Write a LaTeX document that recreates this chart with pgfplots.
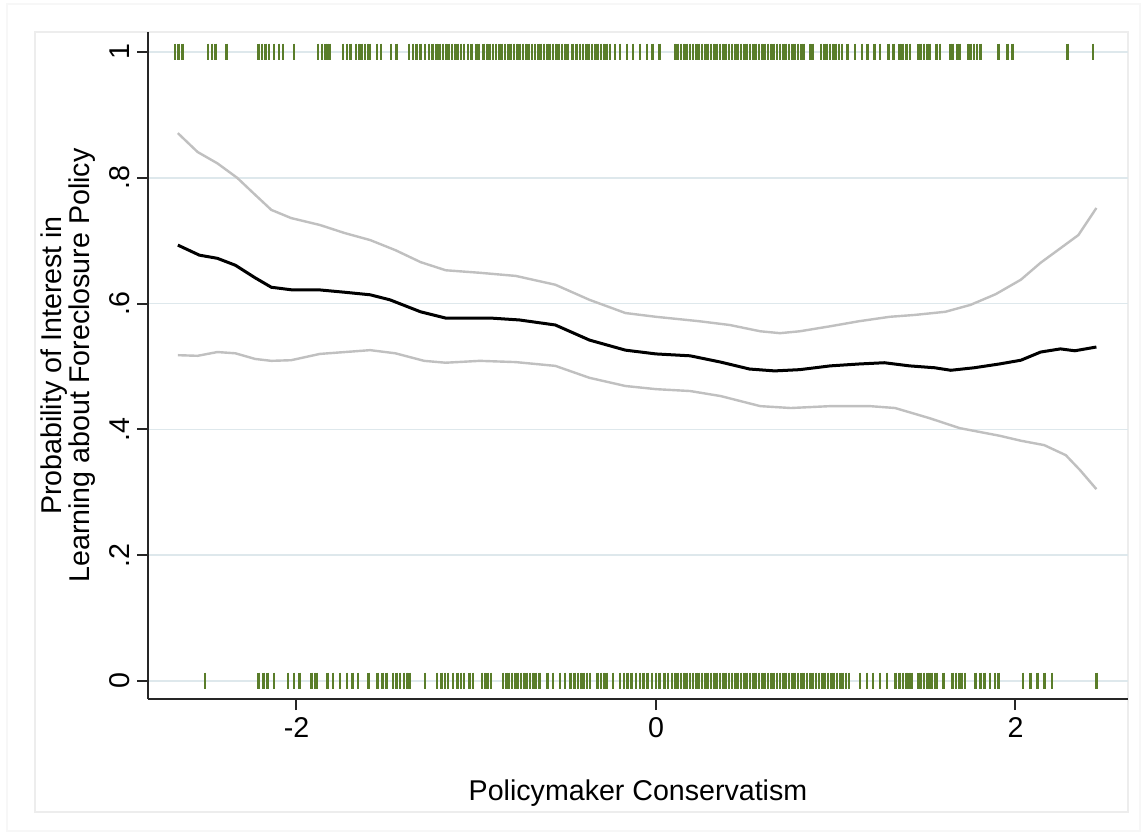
\documentclass[border=0pt]{standalone}
\usepackage{fontspec}
\setmainfont{Liberation Sans}
\usepackage{pgfplots}
\pgfplotsset{compat=1.18}
\definecolor{rug}{RGB}{90,125,42}
\definecolor{gridc}{RGB}{222,232,236}
\definecolor{ci}{RGB}{192,192,192}
\begin{document}
\begin{tikzpicture}
\useasboundingbox (0,0) rectangle (572pt,417.5pt);
\fill[white] (0,0) rectangle (572pt,417.5pt);
\draw[gray!6, line width=0.6pt] (3.5pt,2pt) rectangle (570pt,415.5pt);
\draw[gray!14, line width=0.8pt] (17.5pt,11.5pt) rectangle (564pt,401.5pt);
\begin{axis}[
  at={(74pt,68pt)}, anchor=south west,
  scale only axis, width=490pt, height=333.5pt,
  xmin=-2.826, xmax=2.626, ymin=-0.0286, ymax=1.0318,
  axis lines=left, axis line style={-, line width=1pt, black!85},
  tick style={line width=1pt, black!85},
  tick align=outside, major tick length=5.5pt,
  xtick={-2,0,2}, xticklabels={-2,0,2},
  ytick={0,0.2,0.4,0.6,0.8,1}, yticklabels={0,.2,.4,.6,.8,1},
  yticklabel style={rotate=90, anchor=south},
  ymajorgrids, grid style={gridc, line width=0.8pt},
  font=\fontsize{14.3}{14}\selectfont,
  xlabel={Policymaker Conservatism},
  ylabel={Probability of Interest in\\Learning about Foreclosure Policy},
  xlabel style={at={(axis description cs:0.5,-0.141)}, anchor=center},
  ylabel style={at={(axis description cs:-0.0816,0.5)}, anchor=center, align=center},
  clip=false,
  rugstyle/.style={only marks, mark=|, mark size=4.2pt, rug, mark options={line width=1.45pt}},
]
% rug at y = 1
\addplot[rugstyle] coordinates {
(-2.676,1)(-2.654,1)(-2.632,1)
(-2.492,1)(-2.470,1)(-2.448,1)(-2.387,1)
(-2.209,1)(-2.192,1)(-2.170,1)(-2.153,1)(-2.125,1)(-2.097,1)(-2.075,1)(-2.014,1)
(-1.880,1)(-1.858,1)(-1.841,1)(-1.825,1)(-1.814,1)
(-1.741,1)(-1.719,1)(-1.697,1)
(-1.669,1)(-1.652,1)(-1.636,1)(-1.619,1)(-1.602,1)(-1.591,1)
(-1.552,1)(-1.530,1)(-1.474,1)(-1.446,1)
(-1.374,1)(-1.352,1)(-1.330,1)(-1.308,1)(-1.285,1)(-1.263,1)(-1.241,1)(-1.219,1)(-1.202,1)
(-1.185,1)(-1.168,1)(-1.152,1)(-1.135,1)(-1.118,1)(-1.102,1)(-1.085,1)(-1.068,1)
(-1.046,1)(-1.024,1)(-1.001,1)(-0.985,1)(-0.962,1)(-0.940,1)(-0.924,1)
(-0.907,1)(-0.890,1)(-0.873,1)(-0.857,1)(-0.840,1)(-0.823,1)(-0.807,1)(-0.790,1)
(-0.773,1)(-0.757,1)(-0.740,1)(-0.723,1)(-0.707,1)(-0.690,1)(-0.673,1)(-0.656,1)
(-0.640,1)(-0.623,1)(-0.606,1)(-0.590,1)(-0.573,1)(-0.556,1)(-0.540,1)(-0.523,1)(-0.506,1)(-0.490,1)
(-0.462,1)
(-0.440,1)(-0.423,1)(-0.406,1)(-0.389,1)(-0.373,1)(-0.356,1)(-0.339,1)(-0.323,1)(-0.306,1)(-0.289,1)(-0.273,1)(-0.256,1)
(-0.228,1)(-0.200,1)(-0.161,1)(-0.128,1)(-0.089,1)(-0.050,1)(-0.017,1)(0.022,1)
(0.106,1)(0.122,1)(0.139,1)(0.156,1)(0.172,1)(0.189,1)(0.206,1)(0.223,1)(0.239,1)(0.256,1)
(0.273,1)(0.289,1)(0.306,1)(0.323,1)(0.339,1)(0.356,1)(0.373,1)(0.389,1)(0.406,1)(0.423,1)
(0.440,1)(0.456,1)(0.473,1)(0.490,1)(0.506,1)(0.523,1)(0.540,1)(0.556,1)(0.573,1)(0.590,1)
(0.606,1)(0.623,1)(0.640,1)(0.656,1)(0.673,1)(0.690,1)(0.707,1)(0.723,1)(0.740,1)(0.757,1)
(0.773,1)(0.790,1)(0.807,1)(0.823,1)
(0.857,1)(0.873,1)
(0.918,1)(0.935,1)(0.951,1)(0.968,1)(0.985,1)(1.001,1)(1.018,1)(1.035,1)
(1.063,1)(1.107,1)(1.146,1)(1.179,1)(1.218,1)(1.246,1)(1.291,1)(1.319,1)(1.357,1)(1.369,1)(1.396,1)(1.413,1)
(1.458,1)(1.474,1)(1.491,1)(1.508,1)(1.524,1)
(1.563,1)(1.580,1)
(1.636,1)(1.652,1)(1.675,1)(1.691,1)
(1.736,1)(1.752,1)(1.769,1)(1.786,1)(1.803,1)
(1.903,1)(1.958,1)(1.981,1)
(2.287,1)(2.431,1)
};
% rug at y = 0
\addplot[rugstyle] coordinates {
(-2.509,0)
(-2.209,0)(-2.181,0)(-2.159,0)(-2.125,0)
(-2.047,0)(-2.014,0)(-1.981,0)
(-1.914,0)(-1.897,0)(-1.886,0)
(-1.825,0)(-1.797,0)(-1.758,0)(-1.719,0)(-1.686,0)(-1.658,0)
(-1.597,0)(-1.547,0)(-1.519,0)(-1.497,0)
(-1.463,0)(-1.446,0)(-1.424,0)(-1.402,0)(-1.385,0)(-1.369,0)
(-1.285,0)
(-1.218,0)(-1.191,0)(-1.174,0)(-1.157,0)(-1.129,0)
(-1.102,0)(-1.085,0)(-1.068,0)(-1.035,0)(-1.018,0)
(-0.968,0)(-0.951,0)(-0.935,0)(-0.918,0)
(-0.851,0)(-0.834,0)(-0.818,0)(-0.801,0)(-0.784,0)(-0.768,0)
(-0.751,0)(-0.734,0)(-0.718,0)(-0.701,0)(-0.684,0)(-0.668,0)(-0.651,0)
(-0.645,0)(-0.606,0)(-0.573,0)(-0.534,0)(-0.506,0)(-0.478,0)
(-0.451,0)(-0.434,0)(-0.417,0)(-0.401,0)(-0.384,0)(-0.367,0)
(-0.323,0)(-0.306,0)(-0.289,0)(-0.273,0)(-0.239,0)
(-0.200,0)(-0.178,0)(-0.156,0)(-0.134,0)(-0.111,0)(-0.089,0)(-0.067,0)(-0.045,0)(-0.022,0)(0.000,0)(0.022,0)(0.045,0)(0.067,0)
(0.089,0)(0.106,0)(0.122,0)(0.139,0)(0.156,0)(0.172,0)(0.189,0)(0.206,0)(0.223,0)(0.239,0)(0.256,0)
(0.273,0)(0.289,0)(0.306,0)(0.323,0)(0.339,0)(0.356,0)(0.373,0)(0.389,0)(0.406,0)(0.423,0)
(0.440,0)(0.456,0)(0.473,0)(0.490,0)(0.506,0)(0.523,0)(0.540,0)(0.556,0)(0.573,0)(0.590,0)
(0.606,0)(0.623,0)(0.640,0)(0.656,0)(0.673,0)(0.690,0)(0.707,0)(0.723,0)(0.740,0)(0.757,0)
(0.773,0)(0.790,0)(0.807,0)(0.823,0)(0.840,0)(0.857,0)(0.873,0)(0.890,0)(0.907,0)(0.924,0)
(0.940,0)(0.957,0)(0.974,0)(0.990,0)(1.007,0)(1.024,0)(1.040,0)(1.057,0)(1.074,0)
(1.135,0)(1.174,0)(1.207,0)(1.246,0)(1.285,0)
(1.330,0)(1.352,0)(1.357,0)(1.374,0)(1.391,0)(1.396,0)(1.407,0)(1.413,0)(1.424,0)
(1.458,0)(1.474,0)(1.491,0)(1.508,0)(1.524,0)(1.535,0)(1.552,0)(1.563,0)(1.597,0)
(1.652,0)(1.669,0)(1.686,0)(1.702,0)(1.719,0)
(1.775,0)(1.803,0)(1.830,0)(1.858,0)(1.886,0)(1.903,0)
(2.042,0)(2.081,0)(2.120,0)(2.159,0)(2.203,0)
(2.453,0)
};
% upper band
\addplot[ci, line width=1.2pt] coordinates {
(-2.66,0.871)(-2.55,0.841)(-2.44,0.823)(-2.33,0.800)(-2.23,0.773)(-2.14,0.749)(-2.03,0.736)
(-1.87,0.725)(-1.73,0.712)(-1.59,0.701)(-1.45,0.685)(-1.31,0.666)(-1.17,0.653)(-0.98,0.649)
(-0.78,0.644)(-0.56,0.630)(-0.37,0.606)(-0.17,0.585)(0,0.579)(0.24,0.572)(0.41,0.566)
(0.58,0.556)(0.69,0.553)(0.80,0.556)(0.97,0.564)(1.13,0.572)(1.30,0.579)(1.44,0.582)
(1.61,0.587)(1.75,0.598)(1.89,0.615)(2.03,0.638)(2.14,0.665)(2.25,0.688)(2.35,0.709)(2.45,0.752)
};
% lower band
\addplot[ci, line width=1.2pt] coordinates {
(-2.66,0.518)(-2.55,0.517)(-2.44,0.523)(-2.34,0.521)(-2.23,0.512)(-2.14,0.509)(-2.03,0.510)
(-1.87,0.520)(-1.73,0.523)(-1.59,0.526)(-1.45,0.521)(-1.29,0.509)(-1.17,0.506)(-0.98,0.509)
(-0.78,0.507)(-0.56,0.501)(-0.37,0.482)(-0.17,0.469)(0,0.464)(0.19,0.461)(0.36,0.453)
(0.58,0.437)(0.75,0.434)(0.97,0.437)(1.19,0.437)(1.33,0.434)(1.52,0.418)(1.69,0.402)
(1.91,0.390)(2.03,0.382)(2.16,0.375)(2.28,0.359)(2.36,0.335)(2.45,0.305)
};
% fitted line
\addplot[black, line width=1.5pt] coordinates {
(-2.66,0.693)(-2.54,0.677)(-2.44,0.672)(-2.34,0.661)(-2.23,0.641)(-2.14,0.626)(-2.03,0.622)
(-1.88,0.622)(-1.73,0.618)(-1.59,0.614)(-1.48,0.606)(-1.31,0.587)(-1.17,0.577)(-0.92,0.577)
(-0.76,0.574)(-0.56,0.566)(-0.37,0.542)(-0.17,0.526)(0,0.520)(0.19,0.517)(0.36,0.507)
(0.52,0.496)(0.66,0.493)(0.80,0.495)(0.97,0.501)(1.13,0.504)(1.27,0.506)(1.41,0.501)
(1.55,0.498)(1.64,0.494)(1.77,0.498)(1.91,0.504)(2.03,0.510)(2.14,0.523)(2.25,0.528)
(2.33,0.525)(2.45,0.531)
};
\end{axis}
\end{tikzpicture}
\end{document}
